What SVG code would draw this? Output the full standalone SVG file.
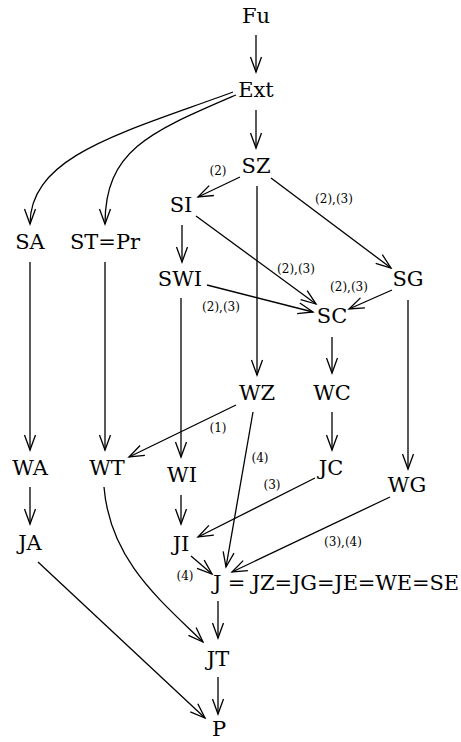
<svg xmlns="http://www.w3.org/2000/svg" width="461" height="742" viewBox="0 0 461 742">
<defs>
<marker id="ah" viewBox="-16 -7 18 14" refX="0" refY="0" markerWidth="18" markerHeight="14" markerUnits="userSpaceOnUse" orient="auto">
<path d="M-15,-5.5 L0,0 L-15,5.5" fill="none" stroke="#000" stroke-width="1.3"/>
</marker>
<style>
.n{font-size:21px;fill:#000;text-anchor:middle}
.l{font-size:12px;fill:#000;text-anchor:middle}
.e{fill:none;stroke:#000;stroke-width:1.3;marker-end:url(#ah)}
</style>
</defs>
<rect width="461" height="742" fill="#fff"/>
<g id="edges">
<path class="e" d="M256,35 L256,72"/>
<path class="e" d="M256,110 L256,148"/>
<path class="e" d="M233,92 C125,132 30,155 30,224"/>
<path class="e" d="M236,95 C150,132 105,150 105,224"/>
<path class="e" d="M240,177 L198,197"/>
<path class="e" d="M257,186 L257,375"/>
<path class="e" d="M271,178 L391,268"/>
<path class="e" d="M182,225 L182,262"/>
<path class="e" d="M196,216 L316,304"/>
<path class="e" d="M207,285 L313,312"/>
<path class="e" d="M392,290 L349,309"/>
<path class="e" d="M332,337 L332,373"/>
<path class="e" d="M408,300 L408,469"/>
<path class="e" d="M30,262 L30,450"/>
<path class="e" d="M105,262 L105,450"/>
<path class="e" d="M181,298 L181,457"/>
<path class="e" d="M236,405 L129,457"/>
<path class="e" d="M253,412 L226,567"/>
<path class="e" d="M332,412 L332,450"/>
<path class="e" d="M315,478 L198,537"/>
<path class="e" d="M181,495 L181,524"/>
<path class="e" d="M390,497 L232,572"/>
<path class="e" d="M191,556 L212,574"/>
<path class="e" d="M30,487 L30,524"/>
<path class="e" d="M104,487 C110,560 160,600 203,642"/>
<path class="e" d="M218,601 L218,638"/>
<path class="e" d="M38,562 L205,718"/>
<path class="e" d="M218,677 L218,714"/>
</g>
<g id="edge-labels" font-family="DejaVu Serif, serif">
<text class="l" x="218" y="175">(2)</text>
<text class="l" x="334" y="203">(2),(3)</text>
<text class="l" x="296" y="273">(2),(3)</text>
<text class="l" x="349" y="291">(2),(3)</text>
<text class="l" x="221" y="311">(2),(3)</text>
<text class="l" x="218" y="432">(1)</text>
<text class="l" x="260" y="462">(4)</text>
<text class="l" x="272" y="489">(3)</text>
<text class="l" x="343" y="546">(3),(4)</text>
<text class="l" x="185" y="580">(4)</text>
</g>
<g id="nodes" font-family="DejaVu Serif, serif">
<g id="Fu"><text class="n" x="256" y="23">Fu</text></g>
<g id="Ext"><text class="n" x="256" y="97">Ext</text></g>
<g id="SZ"><text class="n" x="256" y="173">SZ</text></g>
<g id="SI"><text class="n" x="181" y="212">SI</text></g>
<g id="SA"><text class="n" x="30" y="249">SA</text></g>
<g id="STPr"><text class="n" x="105" y="249">ST=Pr</text></g>
<g id="SWI"><text class="n" x="180" y="286">SWI</text></g>
<g id="SG"><text class="n" x="408" y="286">SG</text></g>
<g id="SC"><text class="n" x="332" y="323">SC</text></g>
<g id="WZ"><text class="n" x="257" y="400">WZ</text></g>
<g id="WC"><text class="n" x="332" y="400">WC</text></g>
<g id="WA"><text class="n" x="30" y="475">WA</text></g>
<g id="WT"><text class="n" x="107" y="475">WT</text></g>
<g id="WI"><text class="n" x="182" y="482">WI</text></g>
<g id="JC"><text class="n" x="331" y="475">JC</text></g>
<g id="WG"><text class="n" x="407" y="492">WG</text></g>
<g id="JA"><text class="n" x="30" y="550">JA</text></g>
<g id="JI"><text class="n" x="181" y="551">JI</text></g>
<g id="J"><text class="n" x="213" y="590" style="text-anchor:start" textLength="246" lengthAdjust="spacing">J = JZ=JG=JE=WE=SE</text></g>
<g id="JT"><text class="n" x="218" y="666">JT</text></g>
<g id="P"><text class="n" x="219" y="736">P</text></g>
</g>
</svg>
